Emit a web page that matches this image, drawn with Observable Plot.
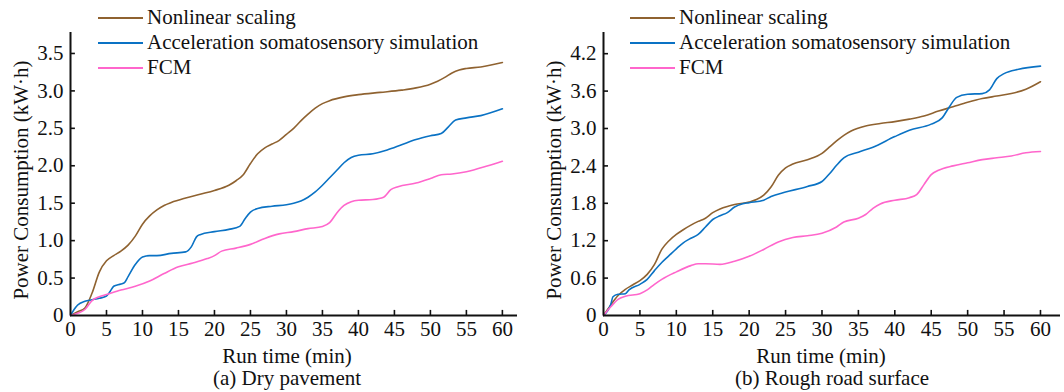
<!DOCTYPE html>
<html>
<head>
<meta charset="utf-8">
<script src="https://cdn.jsdelivr.net/npm/d3@7"></script>
<script src="https://cdn.jsdelivr.net/npm/@observablehq/plot@0.6"></script>
<style>
  html, body { margin: 0; padding: 0; background: #fff; }
  #wrap { display: flex; width: 1064px; height: 392px; }
  .panel { position: relative; width: 532px; height: 392px; }
  .legend { position: absolute; font-family: "Liberation Serif", "Times New Roman", serif; font-size: 21px; color: #111; }
  .legend .row { display: flex; align-items: center; height: 25px; white-space: nowrap; }
  .legend .sw { width: 45px; height: 0; border-top: 2px solid; margin-right: 4px; }
  svg { font-family: "Liberation Serif", "Times New Roman", serif; }
</style>
</head>
<body>
<div id="wrap"></div>
<script>
const seriesNames = ["Nonlinear scaling", "Acceleration somatosensory simulation", "FCM"];
const seriesColors = ["#8f6230", "#0a72c4", "#ff66cc"];

const xTicks = [0, 5, 10, 15, 20, 25, 30, 35, 40, 45, 50, 55, 60];
const dryYTicks = [0, 0.5, 1.0, 1.5, 2.0, 2.5, 3.0, 3.5];
const roughYTicks = [0, 0.6, 1.2, 1.8, 2.4, 3.0, 3.6, 4.2];

// (a) Dry pavement: [time (min), power (kW·h)]
const dryNonlinear = [[0,0],[1,0.05],[2,0.1],[3,0.3],[4,0.58],[5,0.73],[6,0.8],[7,0.86],[8,0.94],[9,1.06],[10,1.22],[11,1.33],[12,1.41],[13,1.47],[14,1.51],[16,1.57],[18,1.62],[20,1.67],[22,1.74],[23,1.8],[24,1.88],[25,2.03],[26,2.16],[27,2.24],[28,2.29],[29,2.34],[30,2.42],[31,2.5],[32,2.6],[33,2.69],[34,2.77],[35,2.83],[36,2.87],[38,2.92],[40,2.95],[43,2.98],[46,3.01],[48,3.04],[50,3.09],[51,3.13],[52,3.18],[53,3.24],[54,3.28],[55,3.3],[57,3.32],[60,3.38]];
const dryAccel = [[0,0],[0.5,0.08],[1,0.14],[2,0.19],[3,0.21],[4,0.23],[5,0.26],[5.5,0.32],[6,0.39],[7,0.42],[7.5,0.44],[8,0.52],[9,0.68],[10,0.78],[11,0.8],[12,0.8],[14,0.83],[16,0.85],[16.8,0.92],[17.5,1.05],[18,1.08],[20,1.12],[22,1.15],[23.5,1.19],[24.3,1.3],[25,1.38],[26,1.43],[28,1.46],[30,1.48],[31,1.5],[32,1.53],[33,1.58],[34,1.65],[35,1.74],[36,1.84],[37,1.94],[38,2.04],[39,2.11],[40,2.14],[42,2.16],[44,2.21],[46,2.28],[48,2.35],[50,2.4],[51.5,2.43],[52.5,2.52],[53.5,2.61],[55,2.64],[57,2.67],[60,2.76]];
const dryFCM = [[0,0],[1,0.03],[2,0.08],[3,0.2],[4,0.25],[5,0.28],[7,0.34],[9,0.39],[11,0.46],[13,0.56],[15,0.65],[17,0.7],[19,0.76],[20,0.8],[21,0.86],[23,0.9],[25,0.95],[27,1.03],[29,1.09],[31,1.12],[33,1.16],[35,1.19],[36,1.24],[37,1.37],[38,1.47],[39,1.52],[40,1.54],[42,1.55],[43.5,1.58],[44.5,1.68],[45.5,1.72],[48,1.77],[50,1.83],[51.5,1.88],[53,1.89],[55,1.92],[58,2.0],[60,2.06]];

// (b) Rough road surface
const roughNonlinear = [[0,0],[1,0.17],[2,0.32],[3,0.42],[4,0.49],[5,0.56],[6,0.66],[7,0.82],[8,1.06],[9,1.2],[10,1.3],[11,1.38],[12,1.45],[13,1.51],[14,1.56],[15,1.65],[16,1.71],[17,1.75],[18,1.78],[20,1.82],[21,1.86],[22,1.93],[23,2.06],[24,2.25],[25,2.37],[26,2.43],[28,2.5],[30,2.6],[31,2.7],[32,2.8],[33,2.89],[34,2.96],[36,3.04],[38,3.08],[40,3.11],[42,3.15],[44,3.2],[46,3.28],[48,3.35],[50,3.42],[52,3.48],[54,3.52],[56,3.56],[58,3.63],[60,3.75]];
const roughAccel = [[0,0],[1,0.18],[1.3,0.3],[2,0.34],[3,0.35],[3.5,0.41],[5,0.5],[6,0.58],[7,0.72],[8,0.85],[9,0.96],[10,1.07],[11,1.17],[12,1.24],[13,1.3],[14,1.42],[15,1.54],[16,1.6],[17,1.65],[18,1.74],[19,1.79],[20,1.81],[22,1.85],[23,1.91],[25,1.98],[28,2.07],[30,2.15],[31,2.27],[32,2.41],[33,2.53],[35,2.62],[37,2.7],[40,2.87],[42,2.97],[45,3.07],[46.5,3.17],[47.5,3.35],[48.5,3.5],[50,3.55],[52,3.56],[53,3.62],[54,3.8],[55,3.88],[57,3.95],[60,4.0]];
const roughFCM = [[0,0],[1,0.14],[2,0.26],[3,0.31],[5,0.35],[6,0.41],[7,0.5],[8,0.58],[10,0.7],[12,0.8],[13,0.83],[14,0.83],[16,0.82],[18,0.87],[20,0.95],[22,1.06],[24,1.18],[26,1.25],[28,1.28],[30,1.32],[32,1.42],[33,1.5],[35,1.56],[36,1.62],[37,1.72],[38,1.79],[40,1.85],[42,1.89],[43,1.94],[44,2.1],[45,2.26],[46,2.33],[48,2.4],[50,2.45],[52,2.5],[54,2.53],[56,2.56],[58,2.61],[60,2.63]];

const xLabel = "Run time (min)";
const yLabel = "Power Consumption (kW·h)";

function makePanel(cfg) {
  const rows = [];
  cfg.series.forEach((s, i) => s.forEach(([t, v]) => rows.push({t, v, name: seriesNames[i]})));
  const fmt = d => d === 0 ? "0" : d.toFixed(1);
  const plot = Plot.plot({
    width: 532,
    height: 392,
    marginLeft: cfg.marginLeft,
    marginRight: cfg.marginRight,
    marginTop: 32,
    marginBottom: 77,
    style: {fontSize: "21px", fontFamily: "'Liberation Serif', 'Times New Roman', serif", color: "#111", background: "white", overflow: "visible"},
    x: {domain: cfg.xDomain},
    y: {domain: cfg.yDomain},
    color: {domain: seriesNames, range: seriesColors},
    marks: [
      Plot.axisX(xTicks, {tickSize: 0, tickPadding: 6, label: null, tickFormat: d => String(d), fontSize: 21}),
      Plot.axisY(cfg.yTicks, {tickSize: 0, tickPadding: 7, label: null, tickFormat: fmt, fontSize: 21}),
      Plot.ruleX(xTicks.slice(1), {y1: 0, y2: cfg.yDomain[1] * 0.018, stroke: "#111", strokeWidth: 1.6}),
      Plot.ruleY(cfg.yTicks.slice(1), {x1: 0, x2: cfg.xDomain[1] * 0.011, stroke: "#111", strokeWidth: 1.6}),
      Plot.line(rows, {x: "t", y: "v", z: "name", stroke: "name", strokeWidth: 1.6, curve: "monotone-x"}),
      Plot.ruleX([0], {stroke: "#111", strokeWidth: 2}),
      Plot.ruleY([0], {stroke: "#111", strokeWidth: 2}),
      Plot.text([xLabel], {frameAnchor: "bottom", dx: cfg.xLabelDx, dy: 47, fontSize: 21, fill: "#111"}),
      Plot.text([cfg.caption], {frameAnchor: "bottom", dx: cfg.captionDx, dy: 69, fontSize: 21, fill: "#111"}),
      Plot.text([yLabel], {frameAnchor: "left", textAnchor: "middle", dx: -49, dy: 6, rotate: -90, fontSize: 21, fill: "#111"})
    ]
  });
  const panel = document.createElement("div");
  panel.className = "panel";
  panel.appendChild(plot);
  const leg = document.createElement("div");
  leg.className = "legend";
  leg.style.left = cfg.legendLeft + "px";
  leg.style.top = "5px";
  seriesNames.forEach((n, i) => {
    const r = document.createElement("div");
    r.className = "row";
    const sw = document.createElement("span");
    sw.className = "sw";
    sw.style.borderColor = seriesColors[i];
    const tx = document.createElement("span");
    tx.textContent = n;
    r.appendChild(sw); r.appendChild(tx);
    leg.appendChild(r);
  });
  panel.appendChild(leg);
  return panel;
}

const wrap = document.getElementById("wrap");
wrap.appendChild(makePanel({
  series: [dryNonlinear, dryAccel, dryFCM],
  xDomain: [0, 62.1], yDomain: [0, 3.78], yTicks: dryYTicks,
  marginLeft: 70, marginRight: 15, legendLeft: 98,
  caption: "(a) Dry pavement", xLabelDx: -7, captionDx: -7
}));
wrap.appendChild(makePanel({
  series: [roughNonlinear, roughAccel, roughFCM],
  xDomain: [0, 62.75], yDomain: [0, 4.54], yTicks: roughYTicks,
  marginLeft: 71, marginRight: 4, legendLeft: 98,
  caption: "(b) Rough road surface", xLabelDx: -11, captionDx: 0
}));
</script>
</body>
</html>
